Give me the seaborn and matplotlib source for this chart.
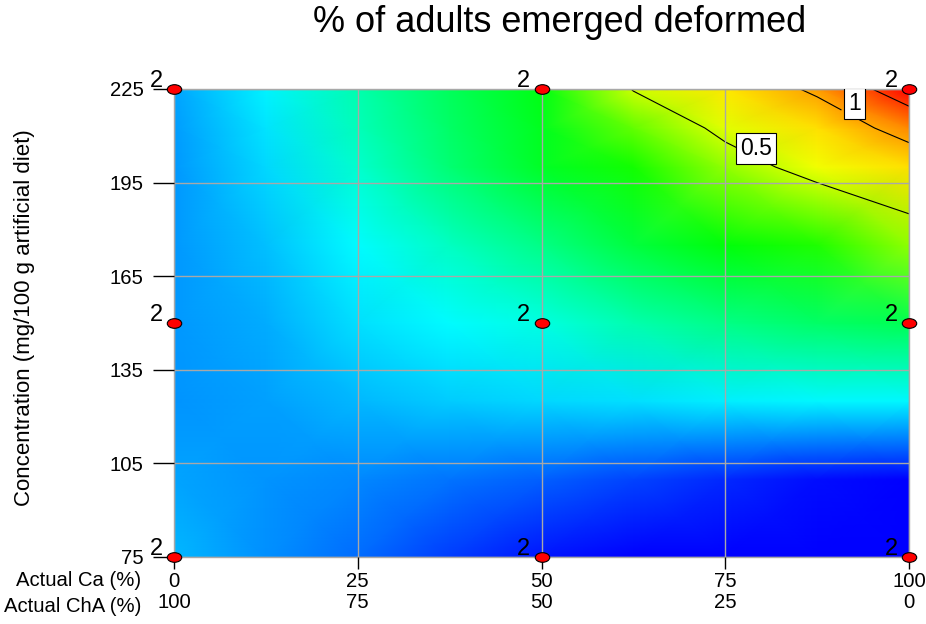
import numpy as np
import seaborn as sns
import matplotlib
matplotlib.use("Agg")
import matplotlib.pyplot as plt
from matplotlib.colors import LinearSegmentedColormap
from matplotlib.markers import MarkerStyle
from matplotlib.transforms import Affine2D

# grid of the response surface (x = Actual Ca %, y = concentration)
ca_pct = [0, 12.5, 25, 37.5, 50, 62.5, 75, 87.5, 100]
conc = [75, 100, 125, 150, 175, 200, 212.5, 225]

deformed_75 = [-1.35, -1.48, -1.62, -1.78, -1.92, -2.05, -2.15, -2.20, -2.25]
deformed_100 = [-1.42, -1.47, -1.52, -1.58, -1.66, -1.75, -1.85, -1.95, -2.00]
deformed_125 = [-1.47, -1.43, -1.35, -1.28, -1.24, -1.20, -1.15, -1.12, -1.12]
deformed_150 = [-1.46, -1.39, -1.21, -1.10, -1.00, -0.81, -0.67, -0.56, -0.49]
deformed_175 = [-1.46, -1.32, -1.10, -0.88, -0.67, -0.42, -0.24, -0.10, 0.30]
deformed_200 = [-1.46, -1.24, -0.92, -0.60, -0.34, -0.13, 0.32, 0.65, 0.80]
deformed_212 = [-1.44, -1.19, -0.86, -0.56, -0.30, 0.15, 0.60, 0.80, 1.12]
deformed_225 = [-1.42, -1.14, -0.81, -0.52, -0.27, 0.52, 0.78, 1.05, 1.80]

contour_levels = [0.5, 1.0, 1.5]
label_pos = [(79.2, 205.9), (92.6, 220.4)]

# design points (replicates shown as "2")
design_ca = [0, 50, 100, 0, 50, 100, 0, 50, 100]
design_conc = [75, 75, 75, 150, 150, 150, 225, 225, 225]
design_reps = [2, 2, 2, 2, 2, 2, 2, 2, 2]

ca_ticks = [0, 25, 50, 75, 100]
cha_ticks = [100, 75, 50, 25, 0]
conc_ticks = [75, 105, 135, 165, 195, 225]

sns.set_theme(style="white")
plt.rcParams["font.family"] = ["Liberation Sans", "DejaVu Sans"]
plt.rcParams["text.color"] = "black"
plt.rcParams["xtick.color"] = "black"
plt.rcParams["ytick.color"] = "black"

W, H = 926, 624
fig = plt.figure(figsize=(W / 100, H / 100), dpi=100)
ax = fig.add_axes([174 / W, 1 - 557 / H, (909 - 174) / W, (557 - 89) / H])

surface = np.array([deformed_75, deformed_100, deformed_125, deformed_150,
                    deformed_175, deformed_200, deformed_212, deformed_225])

cmap = LinearSegmentedColormap.from_list(
    "dx", ["#0000ff", "#00ffff", "#00ff00", "#ffff00", "#ff0000"])
ax.pcolormesh(ca_pct, conc, surface, shading="gouraud", cmap=cmap,
              vmin=-2.0, vmax=1.6, zorder=0)

cs = ax.contour(ca_pct, conc, surface, levels=contour_levels,
                colors="black", linewidths=0.8, zorder=2)
labels = ax.clabel(cs, levels=[0.5, 1.0], fmt={0.5: "0.5", 1.0: "1"},
                   fontsize=16.5, manual=label_pos,
                   inline=True, inline_spacing=2)
for t, pos in zip(labels, label_pos):
    t.set_rotation(0)
    t.set_position(pos)
    t.set_bbox(dict(boxstyle="square,pad=0.18", facecolor="white",
                    edgecolor="black", lw=0.8))

ax.set_xlim(0, 100)
ax.set_ylim(75, 225)
ax.set_xticks(ca_ticks)
ax.set_xticklabels([f"{a}\n{b}" for a, b in zip(ca_ticks, cha_ticks)])
ax.set_yticks(conc_ticks)
ax.grid(True, color="#a8a8a8", lw=1)
ax.set_axisbelow(False)
ax.tick_params(bottom=True, left=True, width=1)
ax.tick_params(axis="y", length=15, pad=7, labelsize=14.6)
ax.tick_params(axis="x", length=8.5, pad=2, labelsize=14.6)
for lab in ax.get_xticklabels():
    lab.set_linespacing(1.15)
for sp in ax.spines.values():
    sp.set_color("#a8a8a8")
    sp.set_linewidth(1)

# red design-point ellipses
sns.scatterplot(x=design_ca, y=design_conc, ax=ax,
                marker=MarkerStyle("o", transform=Affine2D().scale(1.5, 1.0)),
                s=48, color="#ff0000", edgecolor="black", linewidth=0.8,
                clip_on=False, zorder=5, legend=False)
for x, y, n in zip(design_ca, design_conc, design_reps):
    ax.annotate(str(n), (x, y), xytext=(-13, 6), textcoords="offset points",
                ha="center", va="center", fontsize=17, zorder=6,
                annotation_clip=False)

fig.text(559.5 / W, 1 - 22 / H, "% of adults emerged deformed",
         fontsize=26, ha="center", va="center")
fig.text(25 / W, 1 - 318 / H, "Concentration (mg/100 g artificial diet)",
         fontsize=16, rotation=90, ha="center", va="center")
fig.text(141 / W, 1 - 581 / H, "Actual Ca (%)", fontsize=14.6,
         ha="right", va="center")
fig.text(141 / W, 1 - 607 / H, "Actual ChA (%)", fontsize=14.6,
         ha="right", va="center")

fig.savefig("out.png", dpi=100)
